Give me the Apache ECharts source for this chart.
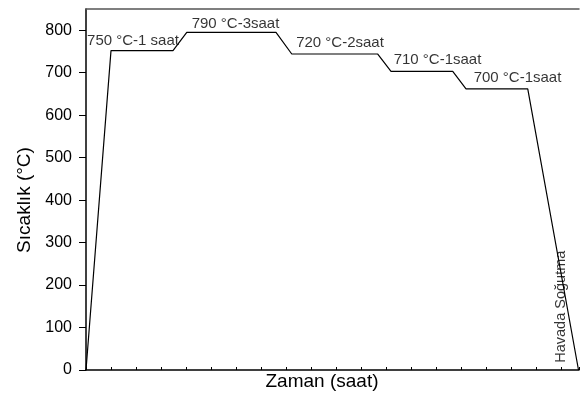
<!DOCTYPE html>
<html>
<head>
<meta charset="utf-8">
<script src="https://cdn.jsdelivr.net/npm/echarts@6/dist/echarts.min.js"></script>
<style>html,body{margin:0;padding:0;background:#fff}#c{width:580px;height:396px}</style>
</head>
<body>
<div id="c"></div>
<script>
// Time (arbitrary hour units along the axis) and temperature of the heat-treatment profile
var timeValues = [0, 1.0, 3.48, 4.03, 7.6, 8.23, 11.67, 12.2, 14.67, 15.2, 17.67, 19.7];
var tempValues = [0, 752, 752, 795, 795, 744, 744, 703, 703, 662, 662, 0];
var yTicks = [0, 100, 200, 300, 400, 500, 600, 700, 800];
var noteTexts = ['750 °C-1 saat', '790 °C-3saat', '720 °C-2saat', '710 °C-1saat', '700 °C-1saat', 'Havada Soğutma'];
var noteX = [1.88, 5.98, 10.16, 14.06, 17.26, 19.0];
var noteY = [774, 816, 770, 730, 688, 149];
var noteRotate = [0, 0, 0, 0, 0, 90];
var noteSize = [15, 15, 15, 15, 15, 14.5];

var font = 'Liberation Sans, Arial, sans-serif';
var chart = echarts.init(document.getElementById('c'), null, {renderer: 'canvas'});
var lineData = timeValues.map(function (t, i) { return [t, tempValues[i]]; });
var noteData = noteTexts.map(function (s, i) {
  return {
    value: [noteX[i], noteY[i]],
    label: {show: true, formatter: s, rotate: noteRotate[i], position: 'inside',
      fontSize: noteSize[i], fontFamily: font, color: '#000', align: 'center', verticalAlign: 'middle'}
  };
});
chart.setOption({
  animation: false,
  backgroundColor: '#fff',
  grid: {left: 86, right: 1, top: 9, bottom: 24, containLabel: false},
  xAxis: [{
    type: 'value', min: 0, max: 19.72, interval: 1,
    name: 'Zaman (saat)', nameLocation: 'middle', nameGap: 2,
    nameTextStyle: {fontSize: 19, fontFamily: font, color: '#000', padding: [0, 21, 0, 0]},
    axisLine: {show: true, onZero: false, lineStyle: {color: '#000', width: 1.5}},
    axisTick: {show: true, inside: true, length: 3, lineStyle: {color: '#000', width: 1}},
    axisLabel: {show: false},
    splitLine: {show: false}
  }, {
    type: 'value', position: 'top', min: 0, max: 19.72,
    axisLine: {show: true, onZero: false, lineStyle: {color: '#555', width: 1.5}},
    axisTick: {show: false}, axisLabel: {show: false}, splitLine: {show: false}
  }],
  yAxis: {
    type: 'value', min: 0, max: 850,
    name: 'Sıcaklık (°C)', nameLocation: 'middle', nameGap: 51,
    nameTextStyle: {fontSize: 19, fontFamily: font, color: '#000', padding: [0, 21, 0, 0]},
    axisLine: {show: true, onZero: false, lineStyle: {color: '#000', width: 1.5}},
    axisTick: {show: true, length: 7, customValues: yTicks, lineStyle: {color: '#000', width: 1}},
    axisLabel: {show: true, customValues: yTicks, margin: 14, fontSize: 16, fontFamily: font, color: '#000'},
    splitLine: {show: false}
  },
  series: [{
    type: 'line', data: lineData, symbol: 'none',
    lineStyle: {color: '#000', width: 1.2}
  }, {
    type: 'scatter', data: noteData, symbolSize: 0, silent: true
  }]
});
</script>
</body>
</html>
